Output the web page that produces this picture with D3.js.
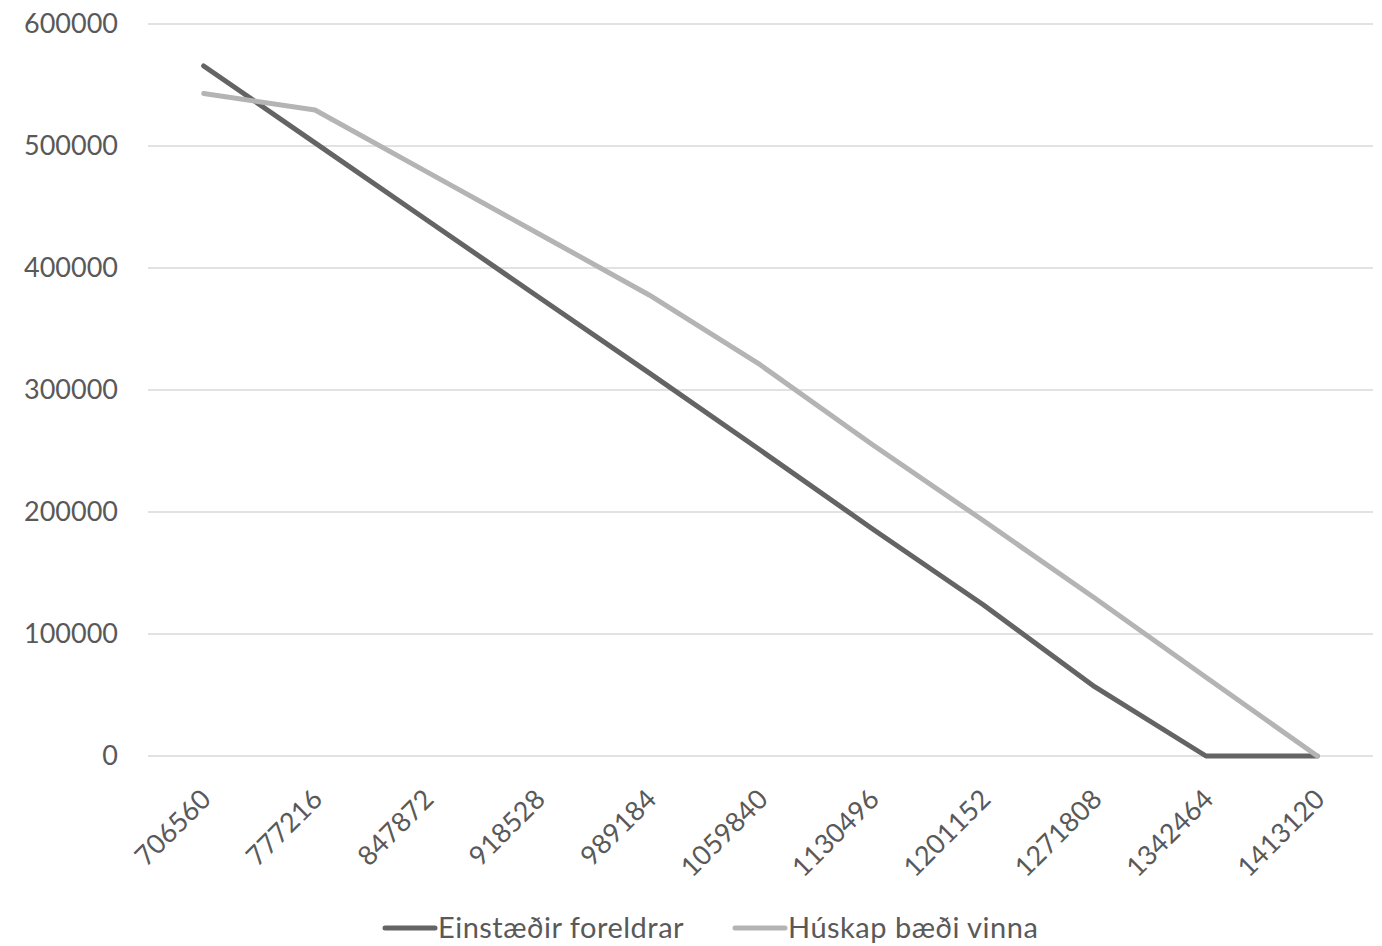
<!DOCTYPE html>
<html>
<head>
<meta charset="utf-8">
<script src="https://cdn.jsdelivr.net/npm/d3@7"></script>
<style>
  body { margin: 0; background: #fff; }
  text { font-family: Lato, "Open Sans", sans-serif; fill: #595959; }
</style>
</head>
<body>
<svg id="chart"></svg>
<script>
// categories on the x axis (income)
const categories = ["706560", "777216", "847872", "918528", "989184", "1059840",
                    "1130496", "1201152", "1271808", "1342464", "1413120"];

// series values
const einstaedir = [565600, 502600, 439600, 376600, 314000, 250600, 186500, 124000, 56800, 0, 0];
const huskap     = [543000, 529500, 479000, 428500, 377900, 320500, 255500, 193000, 129500, 64500, 0];

const yTicks = [0, 100000, 200000, 300000, 400000, 500000, 600000];

const series = [
  {name: "Einstæðir foreldrar", values: einstaedir, color: "#646464"},
  {name: "Húskap bæði vinna",   values: huskap,     color: "#b4b4b4"}
];

const W = 1382, H = 946;
const plot = {left: 148, right: 1373, top: 24, bottom: 756};

const svg = d3.select("#chart")
    .attr("width", W)
    .attr("height", H);

const x = d3.scalePoint()
    .domain(categories)
    .range([plot.left, plot.right])
    .padding(0.5);

const y = d3.scaleLinear()
    .domain([0, 600000])
    .range([plot.bottom, plot.top]);

// gridlines
svg.append("g")
    .selectAll("line")
    .data(yTicks)
    .join("line")
    .attr("x1", plot.left)
    .attr("x2", plot.right)
    .attr("y1", d => y(d))
    .attr("y2", d => y(d))
    .attr("stroke", "#d9d9d9")
    .attr("stroke-width", 1.5);

// y tick labels
svg.append("g")
    .selectAll("text")
    .data(yTicks)
    .join("text")
    .attr("x", 118)
    .attr("y", d => y(d))
    .attr("dy", "0.35em")
    .attr("text-anchor", "end")
    .style("font-size", "27px")
    .text(d => d);

// x tick labels, rotated
svg.append("g")
    .selectAll("text")
    .data(categories)
    .join("text")
    .attr("text-anchor", "end")
    .attr("transform", d => `translate(${x(d) + 9}, ${plot.bottom + 45}) rotate(-45)`)
    .style("font-size", "27px")
    .text(d => d);

const line = d3.line()
    .x((d, i) => x(categories[i]))
    .y(d => y(d));

svg.append("g")
    .selectAll("path")
    .data(series)
    .join("path")
    .attr("d", s => line(s.values))
    .attr("fill", "none")
    .attr("stroke", s => s.color)
    .attr("stroke-width", 5)
    .attr("stroke-linejoin", "round")
    .attr("stroke-linecap", "round");

// legend
const legendX = [385, 735];
const legend = svg.append("g")
    .selectAll("g")
    .data(series)
    .join("g")
    .attr("transform", (s, i) => `translate(${legendX[i]}, 928)`);

legend.append("line")
    .attr("x1", 0)
    .attr("x2", 50)
    .attr("stroke", s => s.color)
    .attr("stroke-width", 5)
    .attr("stroke-linecap", "round");

legend.append("text")
    .attr("x", 53)
    .attr("dy", "0.35em")
    .style("font-size", "29px")
    .style("letter-spacing", "0.5px")
    .text(s => s.name);
</script>
</body>
</html>
